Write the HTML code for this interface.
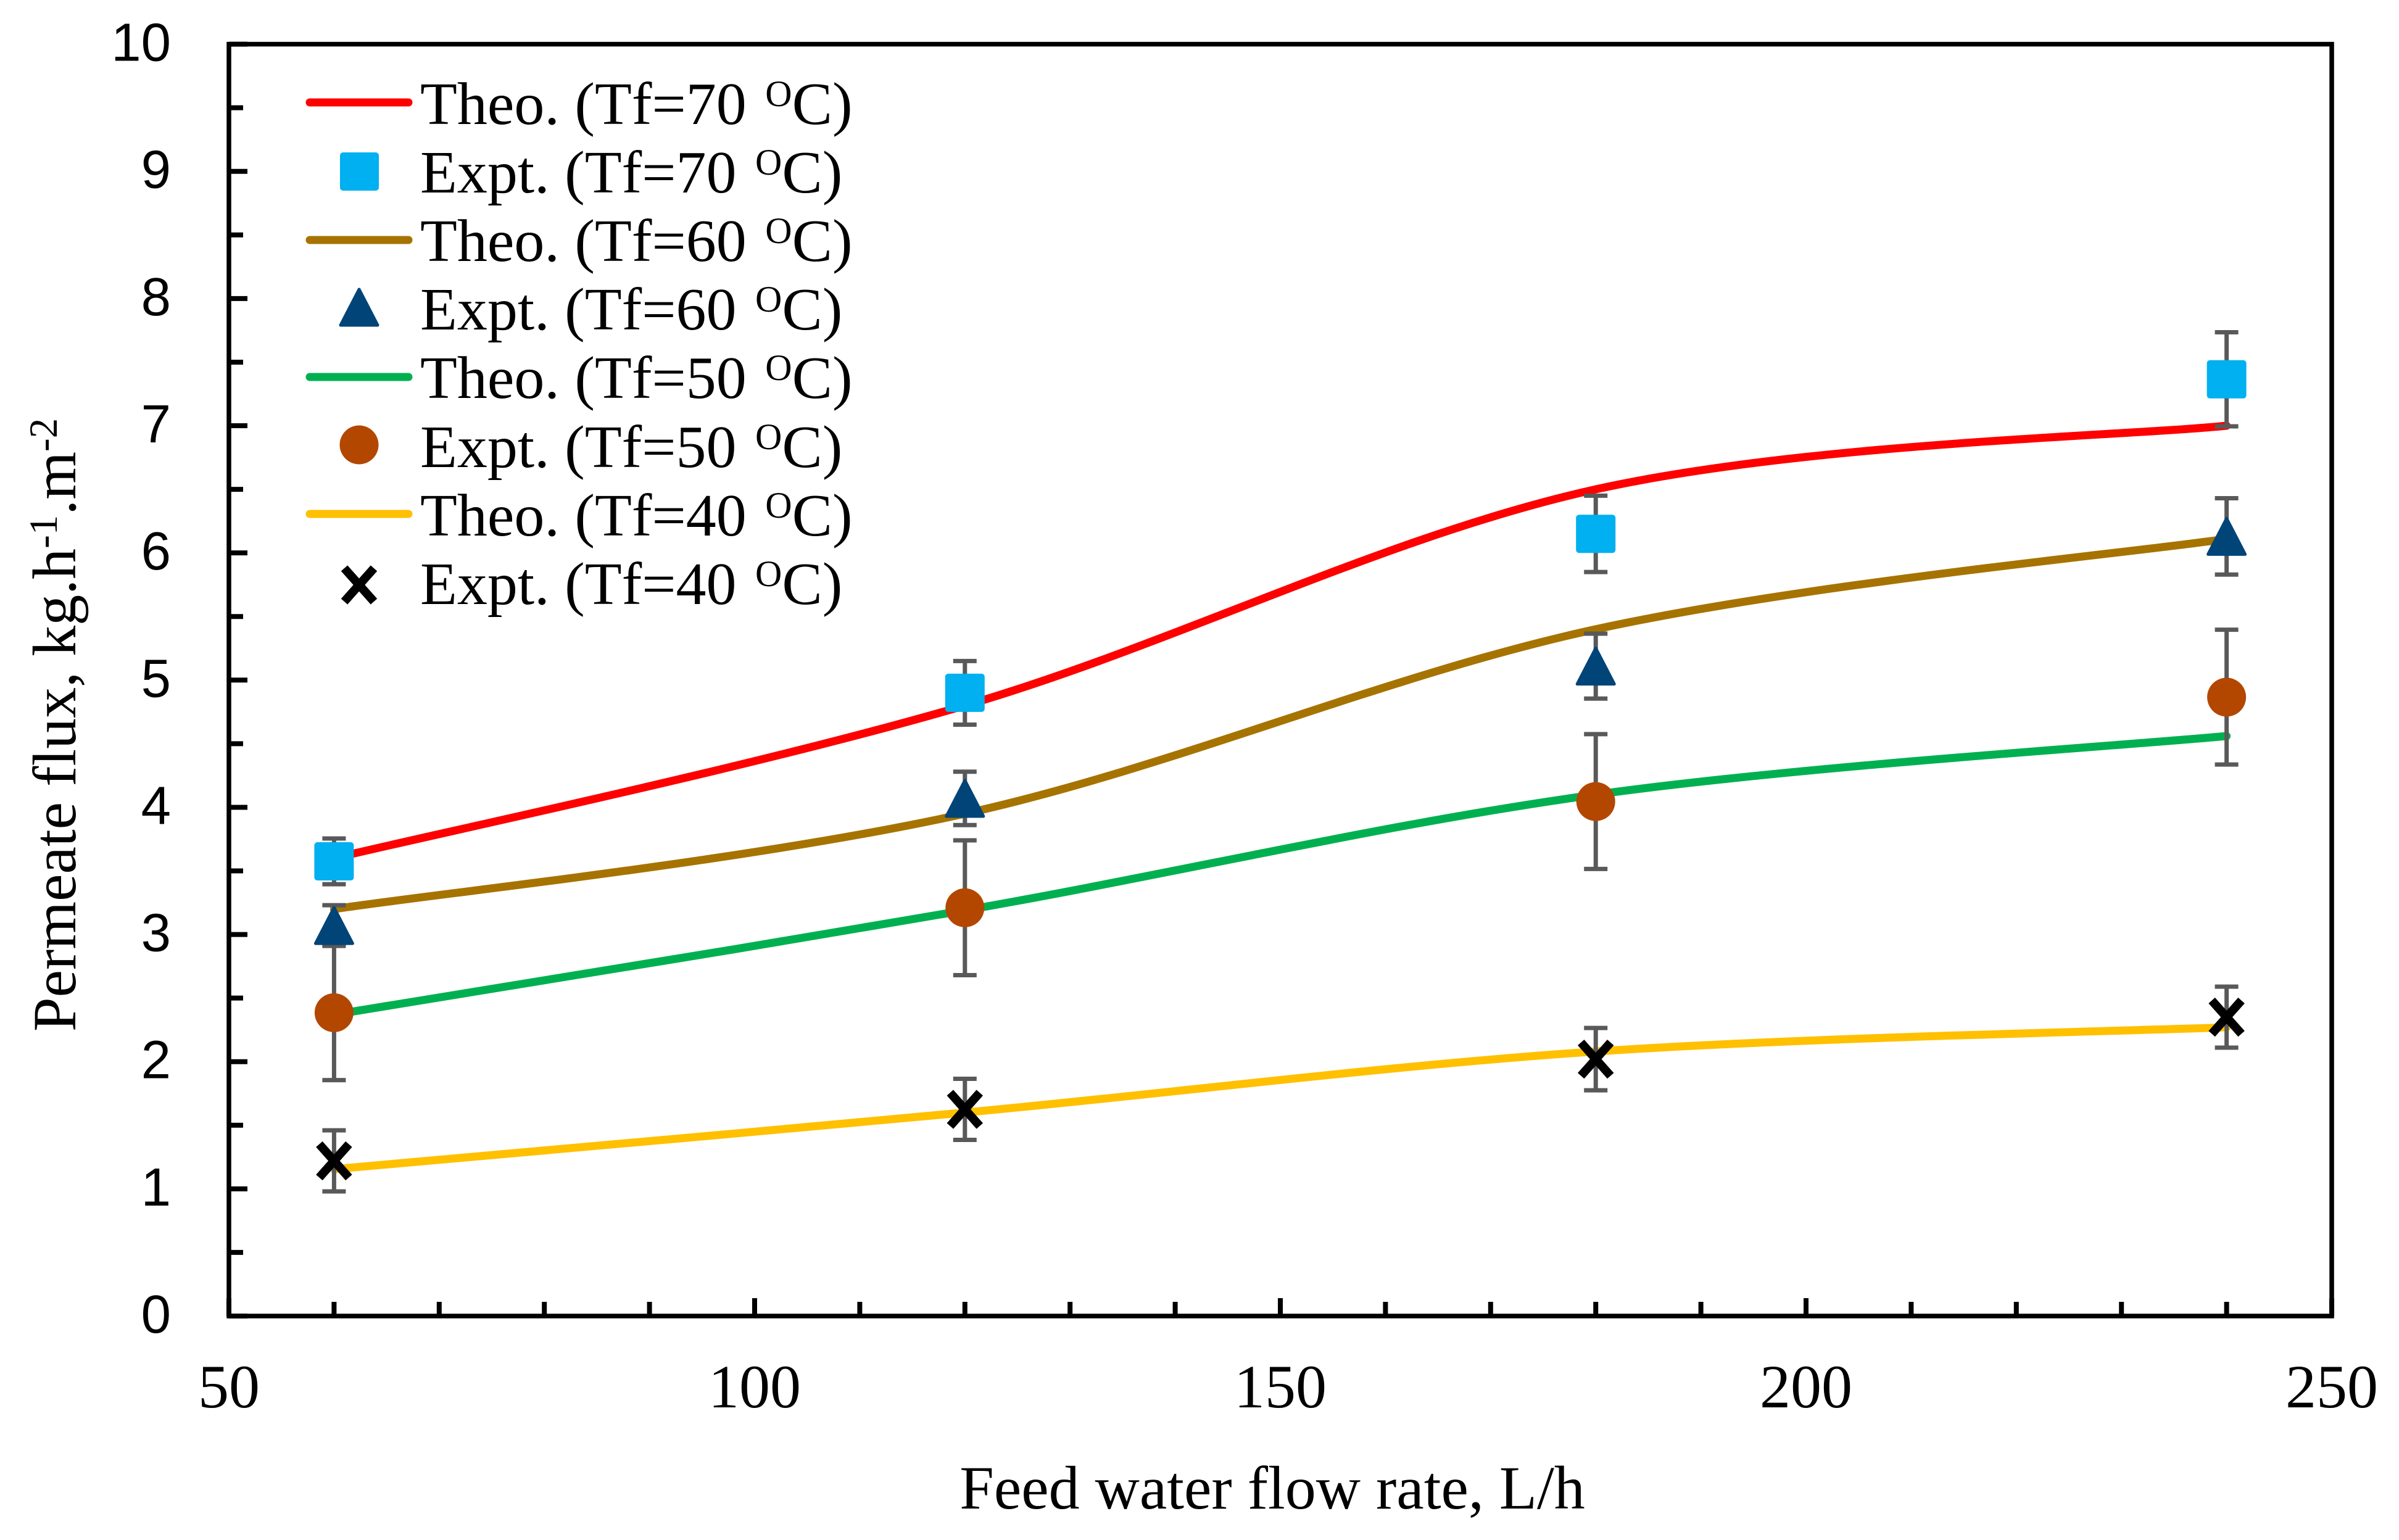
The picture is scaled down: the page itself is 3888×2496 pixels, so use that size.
<!DOCTYPE html>
<html lang="en">
<head>
<meta charset="utf-8">
<title>Permeate flux vs feed water flow rate</title>
<style>
html,body{margin:0;padding:0;background:#fff;width:3888px;height:2496px;overflow:hidden}
svg{display:block}
.serif{font-family:"Liberation Serif","Times New Roman",serif;fill:#000}
.sans{font-family:"Liberation Sans",Arial,sans-serif;fill:#000}
.leg{font-size:98px}
</style>
</head>
<body>
<svg id="chart" xmlns="http://www.w3.org/2000/svg" width="3888" height="2496" viewBox="0 0 3888 2496">
  <rect x="0" y="0" width="3888" height="2496" fill="#fff"/>
  <g id="ticks"></g>
  <g id="series-lines"></g>
  <g id="error-bars"></g>
  <g id="markers"></g>
  <rect x="371" y="71.6" width="3408" height="2061.4" fill="none" stroke="#000" stroke-width="7.5"/>
  <g id="tick-labels"></g>
  <text class="serif" x="2062" y="2445" font-size="100" text-anchor="middle">Feed water flow rate, L/h</text>
  <text class="serif" transform="translate(122,1672) rotate(-90)" font-size="100">Permeate flux, kg.h<tspan font-size="65" dy="-30">-1</tspan><tspan dy="30">.m</tspan><tspan font-size="65" dy="-30">-2</tspan></text>

  <g>
    <g>
      <line x1="502" y1="166" x2="662" y2="166" stroke="#FF0000" stroke-width="13" stroke-linecap="round"/>
      <text class="serif leg" x="681" y="201">Theo. (Tf=70 <tspan font-size="60" dx="6" dy="-29">O</tspan><tspan dy="29">C)</tspan></text>
    </g>
    <g>
      <rect x="551" y="247" width="63" height="62" rx="5" fill="#00B0F0"/>
      <text class="serif leg" x="681" y="312">Expt. (Tf=70 <tspan font-size="60" dx="6" dy="-29">O</tspan><tspan dy="29">C)</tspan></text>
    </g>
    <g>
      <line x1="502" y1="389" x2="662" y2="389" stroke="#A67300" stroke-width="13" stroke-linecap="round"/>
      <text class="serif leg" x="681" y="423">Theo. (Tf=60 <tspan font-size="60" dx="6" dy="-29">O</tspan><tspan dy="29">C)</tspan></text>
    </g>
    <g>
      <path d="M582 469 L612 527 L552 527 Z" fill="#004478" stroke="#004478" stroke-width="5" stroke-linejoin="round"/>
      <text class="serif leg" x="681" y="534">Expt. (Tf=60 <tspan font-size="60" dx="6" dy="-29">O</tspan><tspan dy="29">C)</tspan></text>
    </g>
    <g>
      <line x1="502" y1="611" x2="662" y2="611" stroke="#00B050" stroke-width="13" stroke-linecap="round"/>
      <text class="serif leg" x="681" y="645">Theo. (Tf=50 <tspan font-size="60" dx="6" dy="-29">O</tspan><tspan dy="29">C)</tspan></text>
    </g>
    <g>
      <circle cx="582" cy="721" r="31.5" fill="#B34700"/>
      <text class="serif leg" x="681" y="757">Expt. (Tf=50 <tspan font-size="60" dx="6" dy="-29">O</tspan><tspan dy="29">C)</tspan></text>
    </g>
    <g>
      <line x1="502" y1="833" x2="662" y2="833" stroke="#FFC000" stroke-width="13" stroke-linecap="round"/>
      <text class="serif leg" x="681" y="868">Theo. (Tf=40 <tspan font-size="60" dx="6" dy="-29">O</tspan><tspan dy="29">C)</tspan></text>
    </g>
    <g>
      <path d="M558 921 L606 975 M606 921 L558 975" fill="none" stroke="#000" stroke-width="14"/>
      <text class="serif leg" x="681" y="979">Expt. (Tf=40 <tspan font-size="60" dx="6" dy="-29">O</tspan><tspan dy="29">C)</tspan></text>
    </g>
  </g>
</svg>
<script>
var flowRates = [60, 120, 180, 240];

var theo70 = [3.6, 4.8, 6.5, 7.0];
var theo60 = [3.2, 3.95, 5.4, 6.11];
var theo50 = [2.37, 3.19, 4.1, 4.56];
var theo40 = [1.155, 1.6, 2.08, 2.27];

var expt70 = [3.575, 4.9, 6.15, 7.365];
var expt60 = [3.07, 4.07, 5.11, 6.13];
var expt50 = [2.385, 3.21, 4.045, 4.866];
var expt40 = [1.22, 1.625, 2.02, 2.35];

var err70 = [0.18, 0.25, 0.3, 0.37];
var err60 = [0.16, 0.21, 0.255, 0.3];
var err50 = [0.53, 0.53, 0.53, 0.53];
var err40 = [0.24, 0.24, 0.245, 0.24];

var xTickLabels = [50, 100, 150, 200, 250];
var yTickLabels = [0, 1, 2, 3, 4, 5, 6, 7, 8, 9, 10];

var NS = 'http://www.w3.org/2000/svg';
function xPos(v) { return 371 + (v - 50) * 17.04; }
function yPos(v) { return 2133 - v * 206.14; }
function mk(parent, tag, attrs) {
  var el = document.createElementNS(NS, tag);
  for (var k in attrs) { el.setAttribute(k, attrs[k]); }
  document.getElementById(parent).appendChild(el);
  return el;
}

/* ticks */
for (var tx = 50; tx <= 250; tx += 10) {
  var isMajorX = tx % 50 === 0;
  var xt = mk('ticks', 'line', {x1: xPos(tx), x2: xPos(tx), y1: 2133, y2: 2133 - (isMajorX ? 29 : 23), stroke: '#000', 'stroke-width': 8});
  
  
}
for (var ty = 0; ty <= 20; ty += 1) {
  var yv = ty / 2;
  var isMajorY = ty % 2 === 0;
  var yt = mk('ticks', 'line', {x1: 371, x2: 371 + (isMajorY ? 30 : 23), y1: yPos(yv), y2: yPos(yv), stroke: '#000', 'stroke-width': 8});
  
  
}

/* tick labels */
xTickLabels.forEach(function (v) {
  var t = mk('tick-labels', 'text', {x: xPos(v), y: 2281, 'text-anchor': 'middle', 'font-size': 100, 'class': 'serif'});
  t.textContent = String(v);
  
  
});
yTickLabels.forEach(function (v) {
  var t = mk('tick-labels', 'text', {x: 277, y: yPos(v) + 27, 'text-anchor': 'end', 'font-size': 87, 'class': 'sans'});
  t.textContent = String(v);
  
  
});

/* smooth spline through the points */
function smoothPath(xs, ys) {
  var px = xs.map(xPos), py = ys.map(yPos), n = px.length;
  var d = 'M' + px[0] + ' ' + py[0];
  for (var i = 0; i < n - 1; i++) {
    var a = Math.max(i - 1, 0), b = Math.min(i + 2, n - 1);
    var c1x = px[i] + (px[i + 1] - px[a]) / 6;
    var c1y = py[i] + (py[i + 1] - py[a]) / 6;
    var c2x = px[i + 1] - (px[b] - px[i]) / 6;
    var c2y = py[i + 1] - (py[b] - py[i]) / 6;
    d += ' C' + c1x + ' ' + c1y + ' ' + c2x + ' ' + c2y + ' ' + px[i + 1] + ' ' + py[i + 1];
  }
  return d;
}

function drawLine(values, color, name) {
  var p = mk('series-lines', 'path', {d: smoothPath(flowRates, values), fill: 'none', stroke: color, 'stroke-width': 13, 'stroke-linecap': 'round'});
  
  
}
drawLine(theo70, '#FF0000', 'line-theo-70');
drawLine(theo60, '#A67300', 'line-theo-60');
drawLine(theo50, '#00B050', 'line-theo-50');
drawLine(theo40, '#FFC000', 'line-theo-40');

function drawErrors(values, errors, name) {
  values.forEach(function (v, i) {
    var cx = xPos(flowRates[i]);
    var top = yPos(v + errors[i]), bot = yPos(v - errors[i]);
    var e = mk('error-bars', 'path', {d: 'M' + cx + ' ' + top + ' V' + bot + ' M' + (cx - 19) + ' ' + top + ' H' + (cx + 19) + ' M' + (cx - 19) + ' ' + bot + ' H' + (cx + 19), fill: 'none', stroke: '#595959', 'stroke-width': 7});
    
    
  });
}
drawErrors(expt70, err70, 'error-bar-expt-70');
drawErrors(expt60, err60, 'error-bar-expt-60');
drawErrors(expt50, err50, 'error-bar-expt-50');
drawErrors(expt40, err40, 'error-bar-expt-40');

/* markers */
expt40.forEach(function (v, i) {
  var cx = xPos(flowRates[i]), cy = yPos(v);
  var m = mk('markers', 'path', {d: 'M' + (cx - 24) + ' ' + (cy - 27) + ' L' + (cx + 24) + ' ' + (cy + 27) + ' M' + (cx + 24) + ' ' + (cy - 27) + ' L' + (cx - 24) + ' ' + (cy + 27), fill: 'none', stroke: '#000', 'stroke-width': 14});
  
  
});
expt50.forEach(function (v, i) {
  var m = mk('markers', 'circle', {cx: xPos(flowRates[i]), cy: yPos(v), r: 31.5, fill: '#B34700'});
  
  
});
expt60.forEach(function (v, i) {
  var cx = xPos(flowRates[i]), cy = yPos(v);
  var m = mk('markers', 'path', {d: 'M' + cx + ' ' + (cy - 29) + ' L' + (cx + 30) + ' ' + (cy + 29) + ' L' + (cx - 30) + ' ' + (cy + 29) + ' Z', fill: '#004478', stroke: '#004478', 'stroke-width': 5, 'stroke-linejoin': 'round'});
  
  
});
expt70.forEach(function (v, i) {
  var m = mk('markers', 'rect', {x: xPos(flowRates[i]) - 32, y: yPos(v) - 31, width: 64, height: 62, rx: 5, fill: '#00B0F0'});
  
  
});
</script>
</body>
</html>
